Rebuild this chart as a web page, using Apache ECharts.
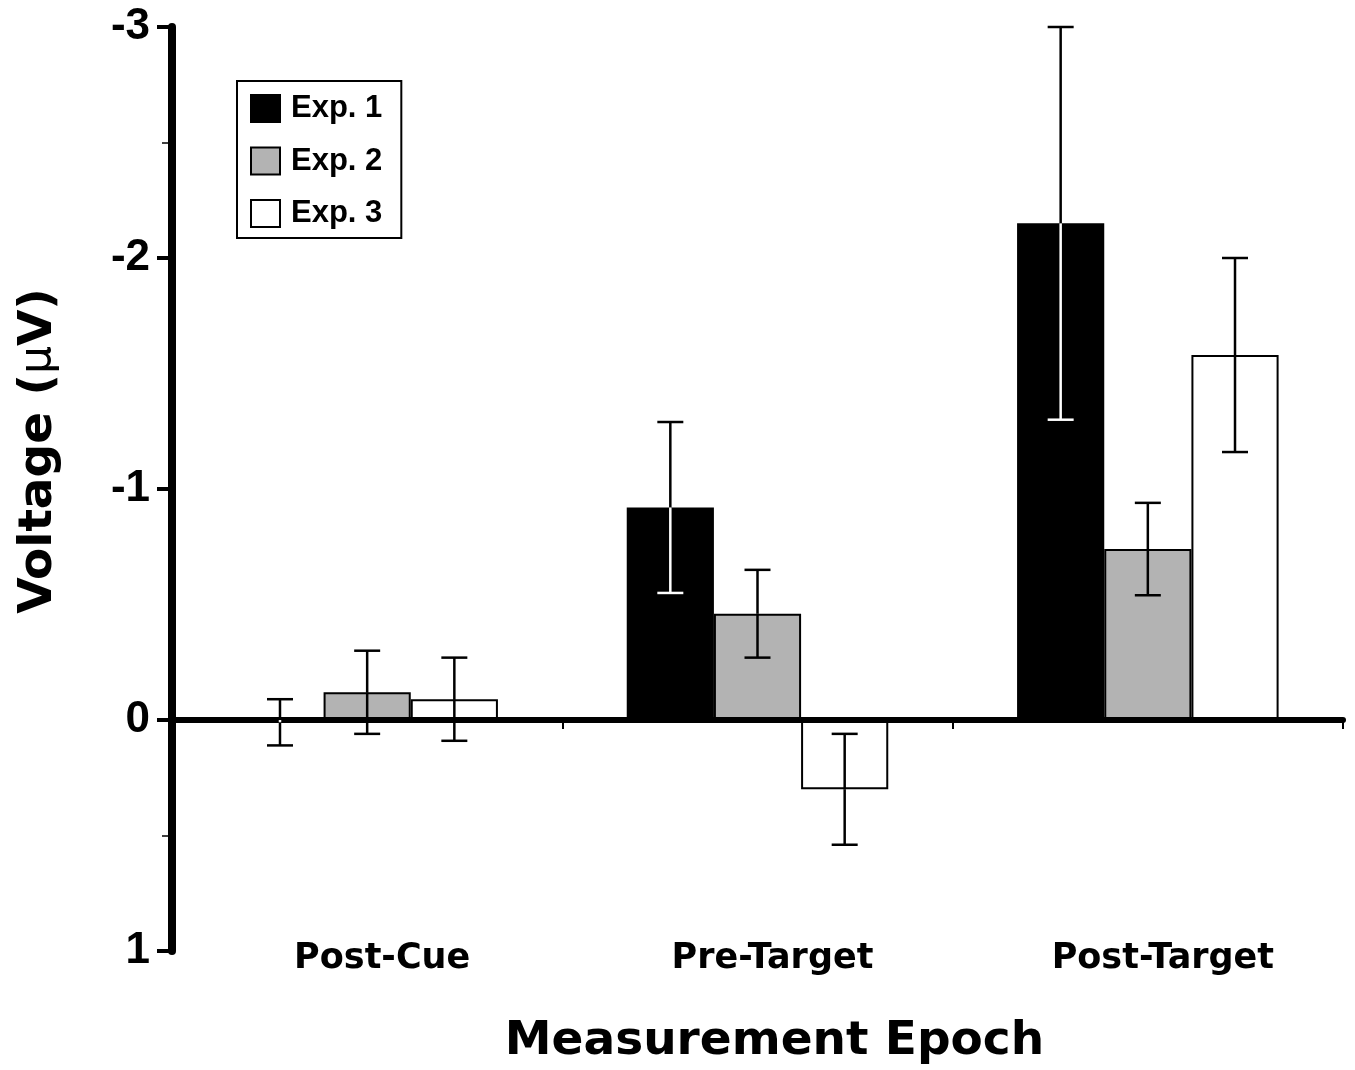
<!DOCTYPE html>
<html>
<head>
<meta charset="utf-8">
<script src="https://cdn.jsdelivr.net/npm/echarts@6/dist/echarts.min.js"></script>
<style>
html,body{margin:0;padding:0;background:#fff;}
#chart{width:1355px;height:1070px;}
</style>
</head>
<body>
<div id="chart"></div>
<script>
const categories = ['Post-Cue', 'Pre-Target', 'Post-Target'];
const seriesNames = ['Exp. 1', 'Exp. 2', 'Exp. 3'];
const exp1 = [0.01, -0.92, -2.15];
const exp2 = [-0.12, -0.46, -0.74];
const exp3 = [-0.09, 0.30, -1.58];
const err1 = [0.10, 0.37, 0.85];
const err2 = [0.18, 0.19, 0.20];
const err3 = [0.18, 0.24, 0.42];
const yTicks = [-3, -2, -1, 0, 1];
const yMinorTicks = [-2.5, 0.5];

const values = [exp1, exp2, exp3];
const errors = [err1, err2, err3];
const fills = ['#000000', '#b3b3b3', '#ffffff'];
const GAP = 0.33;

const errData = [];
for (let s = 0; s < 3; s++) {
  for (let c = 0; c < 3; c++) {
    errData.push([c, s, values[s][c], errors[s][c]]);
  }
}

function renderErr(params, api) {
  const c = api.value(0), s = api.value(1), v = api.value(2), e = api.value(3);
  const band = api.size([1, 0])[0];
  const bw = band * (1 - GAP) / 3;
  const cx = api.coord([c, 0])[0] + (s - 1) * bw;
  const capHalf = 13;
  const y = (val) => api.coord([c, val])[1];
  const children = [];
  const black = {stroke: '#000', lineWidth: 2.5};
  const white = {stroke: '#fff', lineWidth: 2.5};
  const ends = [v - e, v + e];
  const lo = Math.min(0, v), hi = Math.max(0, v);
  ends.forEach(function (end) {
    children.push({type: 'line', shape: {x1: cx, y1: y(v), x2: cx, y2: y(end)}, style: black});
    children.push({type: 'line', shape: {x1: cx - capHalf, y1: y(end), x2: cx + capHalf, y2: y(end)}, style: black});
  });
  if (s === 0) {
    ends.forEach(function (end) {
      const a = Math.max(Math.min(v, end), lo);
      const b = Math.min(Math.max(v, end), hi);
      if (b > a) {
        children.push({type: 'line', shape: {x1: cx, y1: y(a), x2: cx, y2: y(b)}, style: white});
      }
      if (end > lo && end < hi) {
        children.push({type: 'line', shape: {x1: cx - capHalf, y1: y(end), x2: cx + capHalf, y2: y(end)}, style: white});
      }
    });
  }
  return {type: 'group', children: children};
}

const chart = echarts.init(document.getElementById('chart'));
const barSeries = seriesNames.map(function (name, i) {
  return {
    name: name,
    type: 'bar',
    xAxisIndex: 0,
    yAxisIndex: 0,
    data: values[i],
    barGap: '0%',
    barCategoryGap: (GAP * 100) + '%',
    itemStyle: {color: fills[i], borderColor: '#000', borderWidth: 2},
    emphasis: {disabled: true},
    z: 2
  };
});

chart.setOption({
  animation: false,
  backgroundColor: '#fff',
  grid: {left: 172, right: 12, top: 27, bottom: 116, containLabel: false},
  legend: {
    data: seriesNames,
    orient: 'vertical',
    left: 237,
    top: 81,
    padding: [12, 19, 9, 13],
    itemWidth: 29,
    itemHeight: 27,
    itemGap: 21.5,
    icon: 'rect',
    borderColor: '#000',
    borderWidth: 2,
    selectedMode: false,
    textStyle: {fontFamily: 'Liberation Sans', fontWeight: 'bold', fontSize: 31, color: '#000', padding: [0, 0, 0, 6]}
  },
  xAxis: [
    {
      type: 'category',
      data: categories,
      position: 'bottom',
      z: 5,
      axisLine: {show: true, onZero: true, lineStyle: {color: '#000', width: 6}},
      axisTick: {show: true, length: 9, interval: 0, lineStyle: {color: '#000', width: 2}},
      axisLabel: {show: false},
      splitLine: {show: false}
    },
    {
      type: 'category',
      data: categories,
      position: 'bottom',
      axisLine: {show: false, onZero: false},
      axisTick: {show: false},
      axisLabel: {
        show: true, margin: 8, interval: 0,
        fontFamily: 'DejaVu Sans', fontWeight: 'bold', fontSize: 35, color: '#000',
        verticalAlign: 'middle', padding: [0, 0, 0, 30]
      },
      name: 'Measurement Epoch',
      nameLocation: 'middle',
      nameGap: 67,
      nameTextStyle: {fontFamily: 'DejaVu Sans', fontWeight: 'bold', fontSize: 47, color: '#000', padding: [0, 0, 0, 34]},
      splitLine: {show: false}
    }
  ],
  yAxis: [
    {
      type: 'value',
      inverse: true,
      min: yTicks[0],
      max: yTicks[yTicks.length - 1],
      interval: 1,
      z: 4,
      axisLine: {show: true, onZero: false, lineStyle: {color: '#000', width: 8}},
      axisTick: {show: true, length: 15, lineStyle: {color: '#000', width: 4}},
      splitLine: {show: false},
      axisLabel: {
        margin: 22, fontFamily: 'Liberation Sans', fontWeight: 'bold', fontSize: 44, color: '#000',
        formatter: function (v) { return String(v); }
      },
      name: 'Voltage ({mu|μ}V)',
      nameLocation: 'middle',
      nameGap: 110,
      nameRotate: 90,
      nameTextStyle: {
        fontFamily: 'DejaVu Sans', fontWeight: 'bold', fontSize: 47, color: '#000',
        padding: [0, 0, 0, 76],
        rich: {mu: {fontFamily: 'DejaVu Sans', fontWeight: 'normal', fontSize: 44, color: '#000'}}
      }
    },
    {
      type: 'value',
      inverse: true,
      position: 'left',
      min: yTicks[0],
      max: yTicks[yTicks.length - 1],
      z: 3,
      axisLine: {show: false, onZero: false},
      axisTick: {show: true, length: 10, customValues: yMinorTicks, lineStyle: {color: '#000', width: 1.5}},
      axisLabel: {show: false},
      splitLine: {show: false}
    }
  ],
  series: barSeries.concat([{
    type: 'custom',
    name: 'errors',
    xAxisIndex: 0,
    yAxisIndex: 0,
    renderItem: renderErr,
    data: errData,
    encode: {x: 0, y: 2},
    z: 6,
    silent: true
  }])
});
</script>
</body>
</html>
